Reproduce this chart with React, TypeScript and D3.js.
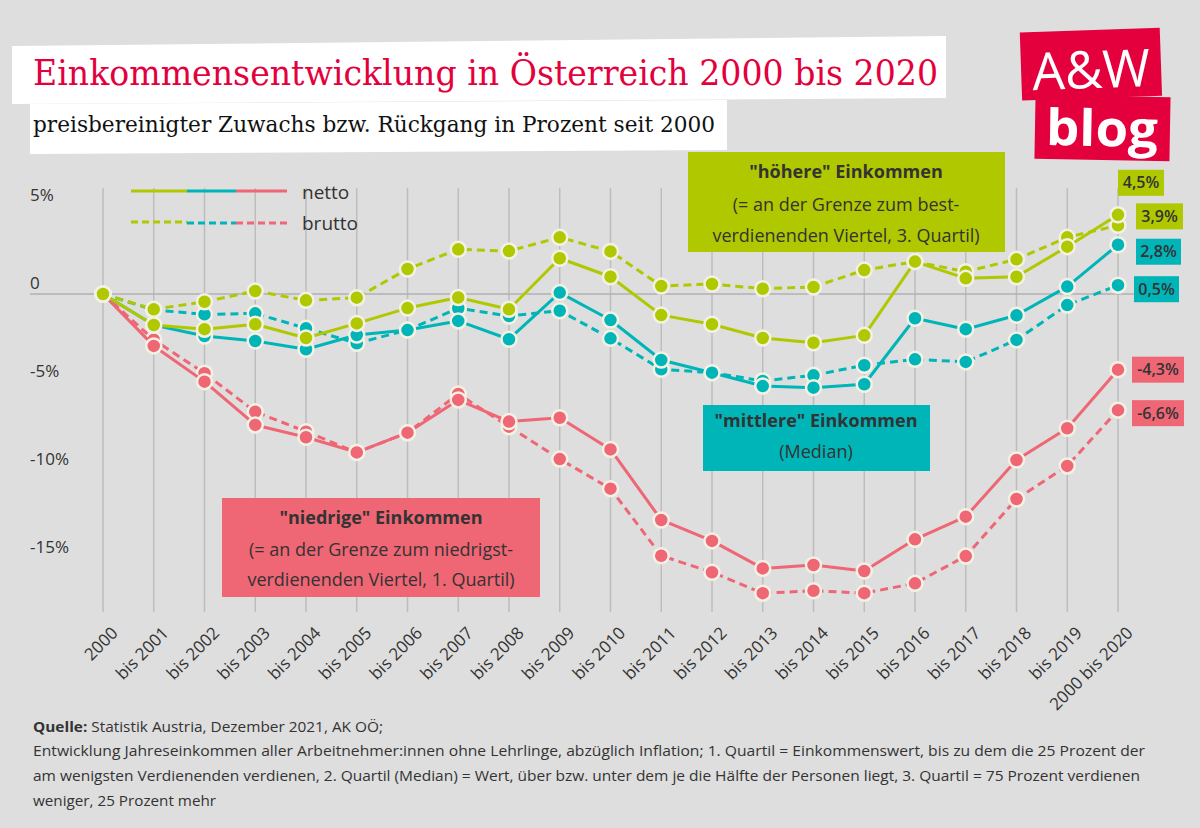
import React from "react";
import * as d3 from "d3";

const categories = ["2000","bis 2001","bis 2002","bis 2003","bis 2004","bis 2005","bis 2006","bis 2007","bis 2008","bis 2009","bis 2010","bis 2011","bis 2012","bis 2013","bis 2014","bis 2015","bis 2016","bis 2017","bis 2018","bis 2019","2000 bis 2020"];

const highNetto = [0,-1.76,-2.0,-1.72,-2.5,-1.67,-0.8,-0.2,-0.87,2.03,0.98,-1.2,-1.72,-2.5,-2.77,-2.35,1.84,0.89,0.98,2.69,4.5];
const highBrutto = [0,-0.87,-0.44,0.17,-0.36,-0.21,1.42,2.54,2.44,3.22,2.42,0.45,0.57,0.3,0.4,1.36,1.84,1.27,1.97,3.22,3.9];
const midNetto = [0,-1.76,-2.39,-2.67,-3.14,-2.33,-2.05,-1.53,-2.57,0.08,-1.48,-3.75,-4.47,-5.23,-5.32,-5.13,-1.38,-2.0,-1.21,0.42,2.8];
const midBrutto = [0,-0.9,-1.16,-1.1,-1.95,-2.8,-2.05,-0.81,-1.25,-0.95,-2.52,-4.28,-4.47,-4.94,-4.62,-4.05,-3.71,-3.86,-2.61,-0.63,0.5];
const lowNetto = [0,-2.95,-4.98,-7.44,-8.14,-9.0,-7.88,-6.02,-7.25,-7.03,-8.83,-12.84,-14.03,-15.59,-15.4,-15.74,-13.94,-12.65,-9.43,-7.63,-4.3];
const lowBrutto = [0,-2.6,-4.5,-6.69,-7.82,-9.0,-7.88,-5.68,-7.54,-9.38,-11.06,-14.87,-15.81,-17.0,-16.86,-17.0,-16.44,-14.89,-11.65,-9.77,-6.6];

const yTicks = [5, 0, -5, -10, -15];
const yTickLabels = ["5%", "0", "-5%", "-10%", "-15%"];

const endLabels = [
  { text: "4,5%", value: 4.5, color: "green", dx: 0, dy: -32, w: 46 },
  { text: "3,9%", value: 3.9, color: "green", dx: 18, dy: -9, w: 47 },
  { text: "2,8%", value: 2.8, color: "teal", dx: 18, dy: 7, w: 45 },
  { text: "0,5%", value: 0.5, color: "teal", dx: 16, dy: 4, w: 45 },
  { text: "-4,3%", value: -4.3, color: "red", dx: 14, dy: 0, w: 52 },
  { text: "-6,6%", value: -6.6, color: "red", dx: 14, dy: 3, w: 52 },
];

const C = {
  green: "#b0c800",
  teal: "#00b5b8",
  red: "#ef6674",
  bg: "#dedede",
  grid: "#bdbdbd",
  text: "#333333",
  brand: "#e3003d",
  cream: "#f3f1e4",
};

const x = d3.scalePoint<string>().domain(categories).range([103, 1118]);
const y = d3.scaleLinear().domain([-15, 5]).range([294 + 15 * 17.6, 294 - 5 * 17.6]);

const series = [
  { vals: lowBrutto, color: C.red, dashed: true },
  { vals: lowNetto, color: C.red, dashed: false },
  { vals: midBrutto, color: C.teal, dashed: true },
  { vals: midNetto, color: C.teal, dashed: false },
  { vals: highBrutto, color: C.green, dashed: true },
  { vals: highNetto, color: C.green, dashed: false },
];

const line = d3
  .line<number>()
  .x((_, i) => x(categories[i]) as number)
  .y((d) => y(d));

const sans = "'Open Sans', 'Noto Sans', sans-serif";

export default function App() {
  const lastX = x(categories[categories.length - 1]) as number;
  return (
    <svg
      width={1200}
      height={828}
      style={{ position: "absolute", left: 0, top: 0, background: C.bg }}
    >
      <rect x={0} y={0} width={1200} height={828} fill={C.bg} />

      {/* title boxes */}
      <polygon points="12,46 946,36 946,98 12,104" fill="#ffffff" />
      <polygon points="30,104 727,100 727,150 30,154" fill="#ffffff" />
      <text
        x={33}
        y={85}
        fontFamily="'DejaVu Serif', serif"
        fontSize={36}
        fill={C.brand}
        textLength={905}
        lengthAdjust="spacingAndGlyphs"
      >
        Einkommensentwicklung in Österreich 2000 bis 2020
      </text>
      <text
        x={33}
        y={132}
        fontFamily="'DejaVu Serif', serif"
        fontSize={23}
        fill="#111"
        textLength={682}
        lengthAdjust="spacingAndGlyphs"
      >
        preisbereinigter Zuwachs bzw. Rückgang in Prozent seit 2000
      </text>

      {/* logo */}
      <g transform="rotate(-2 1095 95)">
        <rect x={1022} y={30} width={140} height={68} fill={C.brand} />
        <text x={1092} y={88} textAnchor="middle" fontFamily={sans} fontSize={52} fill="#fff" textLength={118} lengthAdjust="spacingAndGlyphs">A&amp;W</text>
      </g>
      <g transform="rotate(1 1100 128)">
        <rect x={1035} y={96} width={135} height={64} fill={C.brand} />
        <text x={1102} y={146} textAnchor="middle" fontFamily={sans} fontWeight={700} fontSize={50} fill="#fff" textLength={112} lengthAdjust="spacingAndGlyphs">blog</text>
      </g>

      {/* vertical grid */}
      {categories.map((c) => (
        <line key={c} x1={x(c)} x2={x(c)} y1={188} y2={612} stroke={C.grid} strokeWidth={1.5} />
      ))}
      {/* zero line */}
      <line x1={30} x2={1140} y1={y(0)} y2={y(0)} stroke="#b0b0b0" strokeWidth={1.5} />

      {/* y tick labels */}
      {yTicks.map((t, i) => (
        <text key={t} x={30} y={y(t) - 11} dy="0.35em" fontFamily={sans} fontSize={17} fill={C.text}>
          {yTickLabels[i]}
        </text>
      ))}

      {/* x labels */}
      {categories.map((c) => (
        <text
          key={c}
          transform={`translate(${(x(c) as number) + 16},${634}) rotate(-45)`}
          textAnchor="end"
          fontFamily={sans}
          fontSize={17}
          fill={C.text}
        >
          {c}
        </text>
      ))}

      {/* annotation boxes */}
      <rect x={688} y={152} width={317} height={100} fill={C.green} />
      <text x={846} y={172} dy="0.35em" textAnchor="middle" fontFamily={sans} fontSize={18} fontWeight={700} fill={C.text}>"höhere" Einkommen</text>
      <text x={846} y={205} dy="0.35em" textAnchor="middle" fontFamily={sans} fontSize={18} fill={C.text}>(= an der Grenze zum best-</text>
      <text x={846} y={236} dy="0.35em" textAnchor="middle" fontFamily={sans} fontSize={18} fill={C.text}>verdienenden Viertel, 3. Quartil)</text>

      <rect x={703} y={405} width={227} height={66} fill={C.teal} />
      <text x={816} y={421} dy="0.35em" textAnchor="middle" fontFamily={sans} fontSize={18} fontWeight={700} fill={C.text}>"mittlere" Einkommen</text>
      <text x={816} y={452} dy="0.35em" textAnchor="middle" fontFamily={sans} fontSize={18} fill={C.text}>(Median)</text>

      <rect x={222} y={498} width={318} height={99} fill={C.red} />
      <text x={381} y={518} dy="0.35em" textAnchor="middle" fontFamily={sans} fontSize={18} fontWeight={700} fill={C.text}>"niedrige" Einkommen</text>
      <text x={381} y={550} dy="0.35em" textAnchor="middle" fontFamily={sans} fontSize={18} fill={C.text}>(= an der Grenze zum niedrigst-</text>
      <text x={381} y={580} dy="0.35em" textAnchor="middle" fontFamily={sans} fontSize={18} fill={C.text}>verdienenden Viertel, 1. Quartil)</text>

      {/* legend */}
      <line x1={131} x2={187} y1={191} y2={191} stroke={C.green} strokeWidth={3} />
      <line x1={187} x2={236} y1={191} y2={191} stroke={C.teal} strokeWidth={3} />
      <line x1={236} x2={287} y1={191} y2={191} stroke={C.red} strokeWidth={3} />
      <line x1={131} x2={187} y1={222} y2={222} stroke={C.green} strokeWidth={3} strokeDasharray="7,4" />
      <line x1={187} x2={236} y1={223} y2={223} stroke={C.teal} strokeWidth={3} strokeDasharray="7,4" />
      <line x1={236} x2={287} y1={223} y2={223} stroke={C.red} strokeWidth={3} strokeDasharray="7,4" />
      <text x={302} y={192} dy="0.35em" fontFamily={sans} fontSize={19} fill={C.text}>netto</text>
      <text x={302} y={223} dy="0.35em" fontFamily={sans} fontSize={19} fill={C.text}>brutto</text>

      {/* series */}
      {series.map((s, si) => (
        <g key={si}>
          <path
            d={line(s.vals) || ""}
            fill="none"
            stroke={s.color}
            strokeWidth={3}
            strokeDasharray={s.dashed ? "8,5" : undefined}
            strokeLinejoin="round"
          />
          {s.vals.map((v, i) => (
            <circle key={i} cx={x(categories[i])} cy={y(v)} r={7.5} fill={s.color} stroke={C.cream} strokeWidth={2.5} />
          ))}
        </g>
      ))}

      {/* end labels */}
      {endLabels.map((l) => {
        const cy = y(l.value) + l.dy;
        const bx = lastX + l.dx;
        const col = (C as any)[l.color];
        return (
          <g key={l.text}>
            <rect x={bx} y={cy - 13} width={l.w} height={26} fill={col} />
            <text x={bx + l.w / 2} y={cy} dy="0.35em" textAnchor="middle" fontFamily={sans} fontSize={16} fontWeight={600} fill={C.text}>
              {l.text}
            </text>
          </g>
        );
      })}

      {/* footer */}
      <text x={33} y={727} dy="0.35em" fontFamily={sans} fontSize={15} fill={C.text} textLength={350} lengthAdjust="spacingAndGlyphs">
        <tspan fontWeight={700}>Quelle:</tspan> Statistik Austria, Dezember 2021, AK OÖ;
      </text>
      <text x={33} y={751} dy="0.35em" fontFamily={sans} fontSize={15} fill={C.text} textLength={1112} lengthAdjust="spacingAndGlyphs">
        Entwicklung Jahreseinkommen aller Arbeitnehmer:innen ohne Lehrlinge, abzüglich Inflation; 1. Quartil = Einkommenswert, bis zu dem die 25 Prozent der
      </text>
      <text x={33} y={776} dy="0.35em" fontFamily={sans} fontSize={15} fill={C.text} textLength={1107} lengthAdjust="spacingAndGlyphs">
        am wenigsten Verdienenden verdienen, 2. Quartil (Median) = Wert, über bzw. unter dem je die Hälfte der Personen liegt, 3. Quartil = 75 Prozent verdienen
      </text>
      <text x={33} y={801} dy="0.35em" fontFamily={sans} fontSize={15} fill={C.text} textLength={183} lengthAdjust="spacingAndGlyphs">
        weniger, 25 Prozent mehr
      </text>
    </svg>
  );
}
